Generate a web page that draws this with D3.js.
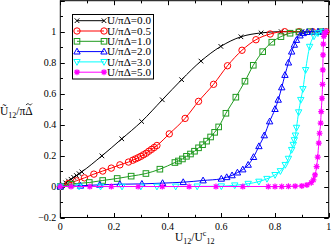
<!DOCTYPE html>
<html>
<head>
<meta charset="utf-8">
<script src="https://cdn.jsdelivr.net/npm/d3@7"></script>
<style>
  body { margin: 0; background: #fff; }
  svg { display: block; font-family: "Liberation Serif", "DejaVu Serif", serif; }
</style>
</head>
<body>
<div id="chart"></div>
<script>
// values (x = U12/Uc12, y = U12~/piDelta~)
const u00 = [0, 0.01, 0.02, 0.03, 0.04, 0.05, 0.06, 0.07, 0.08, 0.155, 0.229, 0.303, 0.38, 0.452, 0.524, 0.598, 0.673, 0.748, 0.823, 0.9, 0.975];
const v00 = [0, 0.012, 0.024, 0.036, 0.047, 0.059, 0.071, 0.083, 0.095, 0.198, 0.308, 0.42, 0.56, 0.69, 0.81, 0.905, 0.967, 0.992, 1.0, 1.0, 1.0];

const u05 = [0, 0.03, 0.06, 0.09, 0.125, 0.158, 0.19, 0.222, 0.254, 0.27, 0.28, 0.29, 0.3, 0.31, 0.32, 0.33, 0.34, 0.35, 0.36, 0.406, 0.465, 0.515, 0.571, 0.623, 0.677, 0.729, 0.782, 0.836, 0.89, 0.94, 0.99];
const v05 = [0, 0.02, 0.037, 0.056, 0.08, 0.1, 0.119, 0.14, 0.158, 0.17, 0.178, 0.186, 0.195, 0.205, 0.215, 0.228, 0.24, 0.252, 0.265, 0.34, 0.44, 0.55, 0.66, 0.78, 0.88, 0.948, 0.985, 1.0, 1.0, 1.0, 1.0];

const u10 = [0, 0.04, 0.108, 0.158, 0.212, 0.264, 0.319, 0.371, 0.427, 0.44, 0.455, 0.47, 0.485, 0.5, 0.515, 0.53, 0.545, 0.56, 0.575, 0.59, 0.617, 0.654, 0.688, 0.719, 0.754, 0.788, 0.822, 0.856, 0.889, 0.93, 0.97];
const v10 = [0, 0.015, 0.026, 0.039, 0.052, 0.067, 0.084, 0.112, 0.155, 0.165, 0.178, 0.195, 0.21, 0.228, 0.25, 0.27, 0.293, 0.32, 0.35, 0.385, 0.473, 0.577, 0.68, 0.783, 0.871, 0.932, 0.968, 0.99, 0.998, 1.0, 1.0];

const u20 = [0, 0.075, 0.147, 0.222, 0.304, 0.381, 0.458, 0.532, 0.6, 0.62, 0.64, 0.66, 0.68, 0.7, 0.72, 0.74, 0.76, 0.78, 0.8, 0.812, 0.825, 0.837, 0.85, 0.862, 0.872, 0.88, 0.893, 0.905, 0.92, 0.94, 0.96, 0.98];
const v20 = [0, 0.005, 0.011, 0.015, 0.017, 0.022, 0.028, 0.039, 0.05, 0.06, 0.072, 0.09, 0.11, 0.14, 0.19, 0.26, 0.33, 0.42, 0.5, 0.56, 0.64, 0.72, 0.8, 0.871, 0.915, 0.946, 0.975, 0.99, 0.997, 1.0, 1.0, 1.0];

const u30 = [0, 0.07, 0.15, 0.23, 0.3, 0.36, 0.43, 0.51, 0.6, 0.65, 0.7, 0.74, 0.77, 0.8, 0.82, 0.838, 0.85, 0.862, 0.868, 0.872, 0.876, 0.88, 0.888, 0.896, 0.904, 0.914, 0.929, 0.945, 0.96, 0.98];
const v30 = [0, 0, 0, 0, 0, 0, 0, 0.001, 0.002, 0.008, 0.018, 0.032, 0.05, 0.075, 0.1, 0.14, 0.18, 0.237, 0.27, 0.3, 0.33, 0.38, 0.48, 0.56, 0.63, 0.753, 0.903, 0.97, 0.99, 1.0];

const u50 = [0, 0.04, 0.11, 0.19, 0.29, 0.38, 0.48, 0.58, 0.68, 0.775, 0.8, 0.825, 0.85, 0.875, 0.9, 0.919, 0.935, 0.943, 0.949, 0.955, 0.959, 0.963, 0.966, 0.97, 0.972, 0.975, 0.977, 0.978, 0.979, 0.98, 0.982, 0.985, 0.99];
const v50 = [0, 0, 0, 0, 0, 0, 0, 0, 0, 0, 0, 0, 0.001, 0.002, 0.004, 0.01, 0.025, 0.043, 0.075, 0.129, 0.19, 0.28, 0.344, 0.41, 0.484, 0.57, 0.66, 0.753, 0.85, 0.92, 0.97, 0.99, 1.0];

const seriesLabels = ["U/\u03c0\u0394=0.0", "U/\u03c0\u0394=0.5", "U/\u03c0\u0394=1.0", "U/\u03c0\u0394=2.0", "U/\u03c0\u0394=3.0", "U/\u03c0\u0394=5.0"];
const xTicks = [0, 0.2, 0.4, 0.6, 0.8, 1];
const yTicks = [-0.2, 0, 0.2, 0.4, 0.6, 0.8, 1];

const colors = ["#000000", "#ff0000", "#1f9a1f", "#0000ff", "#00ffff", "#ff00ff"];
const symbols = ["cross", "circle", "square", "triUp", "triDown", "star"];

const series = [[u00, v00], [u05, v05], [u10, v10], [u20, v20], [u30, v30], [u50, v50]].map((s, i) => ({
    label: seriesLabels[i],
    color: colors[i],
    symbol: symbols[i],
    points: s[0].map((u, j) => ({ u: u, v: s[1][j] }))
}));

const width = 332, height = 248;
const margin = { left: 60.3, right: 3.3, top: 0.7, bottom: 30.5 };

const svg = d3.select("#chart").append("svg")
    .attr("width", width)
    .attr("height", height);

const x = d3.scaleLinear().domain([0, 1]).range([margin.left, width - margin.right]);
const y = d3.scaleLinear().domain([-0.2, 1.2]).range([height - margin.bottom, margin.top]);

const fmt = d => d === 0 ? "0" : (d === 1 ? "1" : d3.format(".1f")(d));

// inward ticks on all four sides
const xMajor = d3.range(0, 1.0001, 0.2), xMinor = d3.range(0.1, 1, 0.2);
const yMajor = d3.range(-0.2, 1.2001, 0.2), yMinor = d3.range(-0.1, 1.2, 0.2);

const ticks = svg.append("g").attr("stroke", "#000").attr("stroke-width", 1);
[[xMajor, 4.5], [xMinor, 2.7]].forEach(([vals, len]) => {
    vals.forEach(t => {
        const px = Math.round(x(t)) + 0.5;
        ticks.append("line").attr("x1", px).attr("x2", px).attr("y1", y(-0.2)).attr("y2", y(-0.2) - len);
        ticks.append("line").attr("x1", px).attr("x2", px).attr("y1", y(1.2)).attr("y2", y(1.2) + len);
    });
});
[[yMajor, 4.5], [yMinor, 2.7]].forEach(([vals, len]) => {
    vals.forEach(t => {
        const py = Math.round(y(t)) + 0.5;
        ticks.append("line").attr("y1", py).attr("y2", py).attr("x1", x(0)).attr("x2", x(0) + len);
        ticks.append("line").attr("y1", py).attr("y2", py).attr("x1", x(1)).attr("x2", x(1) - len);
    });
});

svg.append("rect")
    .attr("x", x(0)).attr("y", y(1.2))
    .attr("width", x(1) - x(0)).attr("height", y(-0.2) - y(1.2))
    .attr("fill", "none").attr("stroke", "#000").attr("stroke-width", 1);

// tick labels
svg.append("g").selectAll("text").data(xTicks).join("text")
    .attr("x", d => x(d)).attr("y", y(-0.2) + 12.5)
    .attr("text-anchor", "middle").attr("font-size", 10)
    .text(fmt);
svg.append("g").selectAll("text").data(yTicks).join("text")
    .attr("x", x(0) - 4).attr("y", d => y(d) + 3.5)
    .attr("text-anchor", "end").attr("font-size", 10)
    .text(fmt);

// axis labels
const xl = svg.append("text").attr("x", 175).attr("y", 241).attr("font-size", 11.5);
xl.append("tspan").text("U");
xl.append("tspan").attr("font-size", 8).attr("dy", 3).text("12");
xl.append("tspan").attr("dy", -3).text("/U");
xl.append("tspan").attr("font-size", 8).attr("dy", -5).text("c");
xl.append("tspan").attr("font-size", 8).attr("dy", 8).text("12");

const yl = svg.append("text").attr("x", 0).attr("y", 114.5).attr("font-size", 11.5);
yl.append("tspan").text("\u0168");
yl.append("tspan").attr("font-size", 8).attr("dy", 3).text("12");
yl.append("tspan").attr("dy", -3).text("/\u03c0");
const delta = yl.append("tspan").text("\u0394");
// tilde over the Delta, drawn as a small path
const full = yl.node().getComputedTextLength();
const dw = delta.node().getComputedTextLength();
const tx = full - dw / 2, ty = 104.3;
svg.append("path")
    .attr("d", `M${tx - 3},${ty + 0.8}C${tx - 1.8},${ty - 1.2} ${tx - 0.6},${ty - 0.6} ${tx},${ty}S${tx + 1.8},${ty + 1.2} ${tx + 3},${ty - 0.8}`)
    .attr("fill", "none").attr("stroke", "#000").attr("stroke-width", 0.8);

// symbols
function drawSymbol(g, type, color, cx, cy) {
    const r = 3.2;
    if (type === "cross") {
        g.append("path").attr("d", `M${cx - 2.3},${cy - 2.3}L${cx + 2.3},${cy + 2.3}M${cx - 2.3},${cy + 2.3}L${cx + 2.3},${cy - 2.3}`)
            .attr("stroke", color).attr("stroke-width", 1).attr("fill", "none");
    } else if (type === "circle") {
        g.append("circle").attr("cx", cx).attr("cy", cy).attr("r", r)
            .attr("stroke", color).attr("fill", "none").attr("stroke-width", 1);
    } else if (type === "square") {
        g.append("rect").attr("x", cx - 2.8).attr("y", cy - 2.8).attr("width", 5.6).attr("height", 5.6)
            .attr("stroke", color).attr("fill", "none").attr("stroke-width", 1);
    } else if (type === "triUp") {
        g.append("path").attr("d", `M${cx},${cy - 3.4}L${cx + 3.2},${cy + 2.4}L${cx - 3.2},${cy + 2.4}Z`)
            .attr("stroke", color).attr("fill", "none").attr("stroke-width", 1);
    } else if (type === "triDown") {
        g.append("path").attr("d", `M${cx},${cy + 3.4}L${cx + 3.2},${cy - 2.4}L${cx - 3.2},${cy - 2.4}Z`)
            .attr("stroke", color).attr("fill", "none").attr("stroke-width", 1);
    } else if (type === "star") {
        g.append("path").attr("d", `M${cx - 3},${cy}L${cx + 3},${cy}M${cx},${cy - 3}L${cx},${cy + 3}M${cx - 2.2},${cy - 2.2}L${cx + 2.2},${cy + 2.2}M${cx - 2.2},${cy + 2.2}L${cx + 2.2},${cy - 2.2}`)
            .attr("stroke", color).attr("stroke-width", 1.2).attr("fill", "none");
        g.append("circle").attr("cx", cx).attr("cy", cy).attr("r", 1.4).attr("fill", color);
    }
}

const line = d3.line().x(d => x(d.u)).y(d => y(d.v)).curve(d3.curveMonotoneX);

const plot = svg.append("g");
series.forEach(s => {
    plot.append("path").datum(s.points)
        .attr("d", line)
        .attr("fill", "none").attr("stroke", s.color).attr("stroke-width", 1);
    const g = plot.append("g");
    s.points.forEach(p => drawSymbol(g, s.symbol, s.color, x(p.u), y(p.v)));
});

// legend
const lg = svg.append("g");
lg.append("rect").attr("x", 72.5).attr("y", 14.5).attr("width", 81).attr("height", 64.5)
    .attr("fill", "#fff").attr("stroke", "#000").attr("stroke-width", 1);
series.forEach((s, i) => {
    const ly = 20.7 + i * 10.3;
    lg.append("line").attr("x1", 77).attr("x2", 104).attr("y1", ly).attr("y2", ly)
        .attr("stroke", s.color).attr("stroke-width", 1);
    drawSymbol(lg, s.symbol, s.color, 77, ly);
    drawSymbol(lg, s.symbol, s.color, 104, ly);
    lg.append("text").attr("x", 107).attr("y", ly + 3.6).attr("font-size", 10.5)
        .attr("textLength", 44).attr("lengthAdjust", "spacingAndGlyphs")
        .text(s.label);
});
</script>
</body>
</html>
